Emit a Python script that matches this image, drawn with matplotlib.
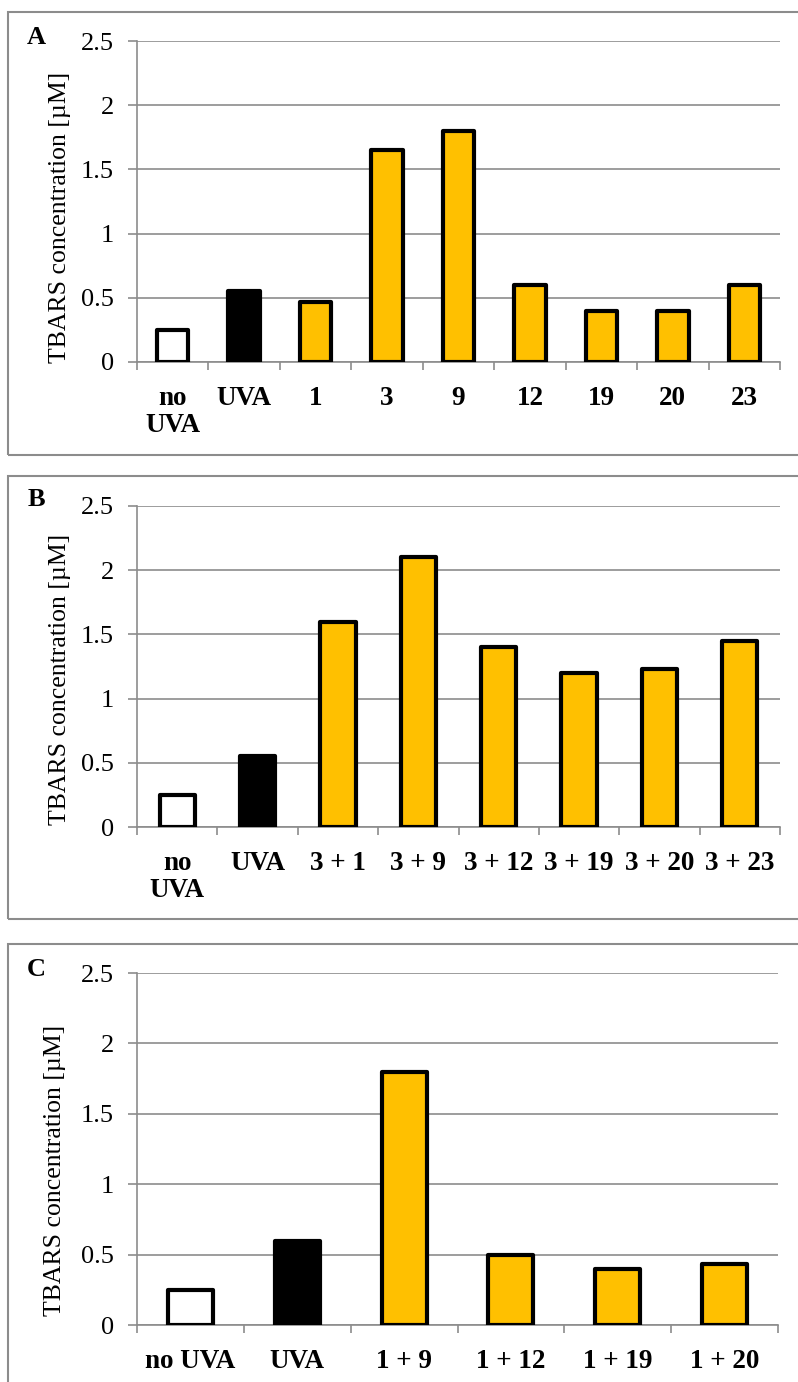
import matplotlib
matplotlib.use("Agg")
import matplotlib.pyplot as plt
from matplotlib.patches import Rectangle
from matplotlib.ticker import FixedLocator

plt.rcParams['font.family'] = ['Liberation Serif', 'DejaVu Serif']

# ---- data ----
cats_a = ["no\nUVA", "UVA", "1", "3", "9", "12", "19", "20", "23"]
vals_a = [0.25, 0.55, 0.47, 1.65, 1.80, 0.60, 0.40, 0.40, 0.60]

cats_b = ["no\nUVA", "UVA", "3 + 1", "3 + 9", "3 + 12", "3 + 19", "3 + 20", "3 + 23"]
vals_b = [0.25, 0.55, 1.60, 2.10, 1.40, 1.20, 1.23, 1.45]

cats_c = ["no UVA", "UVA", "1 + 9", "1 + 12", "1 + 19", "1 + 20"]
vals_c = [0.25, 0.60, 1.80, 0.50, 0.40, 0.43]

yticks = [0, 0.5, 1, 1.5, 2, 2.5]
ytick_labels = ["0", "0.5", "1", "1.5", "2", "2.5"]
ylabel = "TBARS concentration [\u00b5M]"
GOLD = "#FFC000"
GRID = "#8c8c8c"

W, H = 798, 1382
fig = plt.figure(figsize=(W / 100, H / 100), dpi=100)


def px_axes(left, top, right, bottom):
    return fig.add_axes([left / W, 1 - bottom / H, (right - left) / W, (bottom - top) / H])


def panel(box, axbox, letter, letter_xy, cats, vals, width, label_x, label_frac):
    bx0, by0, bx1, by1 = box
    fig.patches.append(Rectangle((bx0 / W, 1 - by1 / H), (bx1 - bx0) / W, (by1 - by0) / H,
                                 transform=fig.transFigure, fill=False,
                                 edgecolor="#8c8c8c", linewidth=1.5, zorder=0))
    ax = px_axes(*axbox)
    n = len(cats)
    colors = ["white", "black"] + [GOLD] * (n - 2)
    ax.bar(range(n), vals, width=width, color=colors, edgecolor="black",
           linewidth=3.0, zorder=3, joinstyle="round")
    ax.set_xlim(-0.5, n - 0.5)
    ax.set_ylim(0, 2.5)
    ax.set_yticks(yticks)
    ax.set_yticklabels(ytick_labels)
    ax.grid(axis="y", color=GRID, linewidth=1.2, zorder=0)
    ax.set_axisbelow(True)
    for s in ["top", "right"]:
        ax.spines[s].set_visible(False)
    for s in ["left", "bottom"]:
        ax.spines[s].set_color(GRID)
        ax.spines[s].set_linewidth(1.2)
    ax.set_xticks(range(n))
    ax.set_xticklabels(cats, fontweight="bold", fontsize=19.5, linespacing=1.1)
    ax.xaxis.set_minor_locator(FixedLocator([i - 0.5 for i in range(n + 1)]))
    ax.tick_params(axis="x", which="major", length=0, pad=17)
    ax.tick_params(axis="x", which="minor", length=6, color=GRID, width=1.2)
    ax.tick_params(axis="y", length=6.5, color=GRID, width=1.2, labelsize=19, pad=10)
    ax.set_ylabel(ylabel, fontsize=18.5)
    ax.yaxis.set_label_coords((label_x - axbox[0]) / (axbox[2] - axbox[0]), label_frac)
    fig.text(letter_xy[0] / W, 1 - letter_xy[1] / H, letter, fontsize=19,
             fontweight="bold", ha="center", va="center")
    return ax


panel((8, 12, 812, 455), (137, 41, 780, 362), "A", (36, 37), cats_a, vals_a, 0.44, 71, 0.45)
panel((8, 476, 812, 919), (137, 506, 780, 827), "B", (36, 500), cats_b, vals_b, 0.44, 71, 0.46)
panel((8, 944, 812, 1400), (137, 973, 778, 1325), "C", (36, 970), cats_c, vals_c, 0.42, 66, 0.44)

fig.savefig("out.png", dpi=100)
